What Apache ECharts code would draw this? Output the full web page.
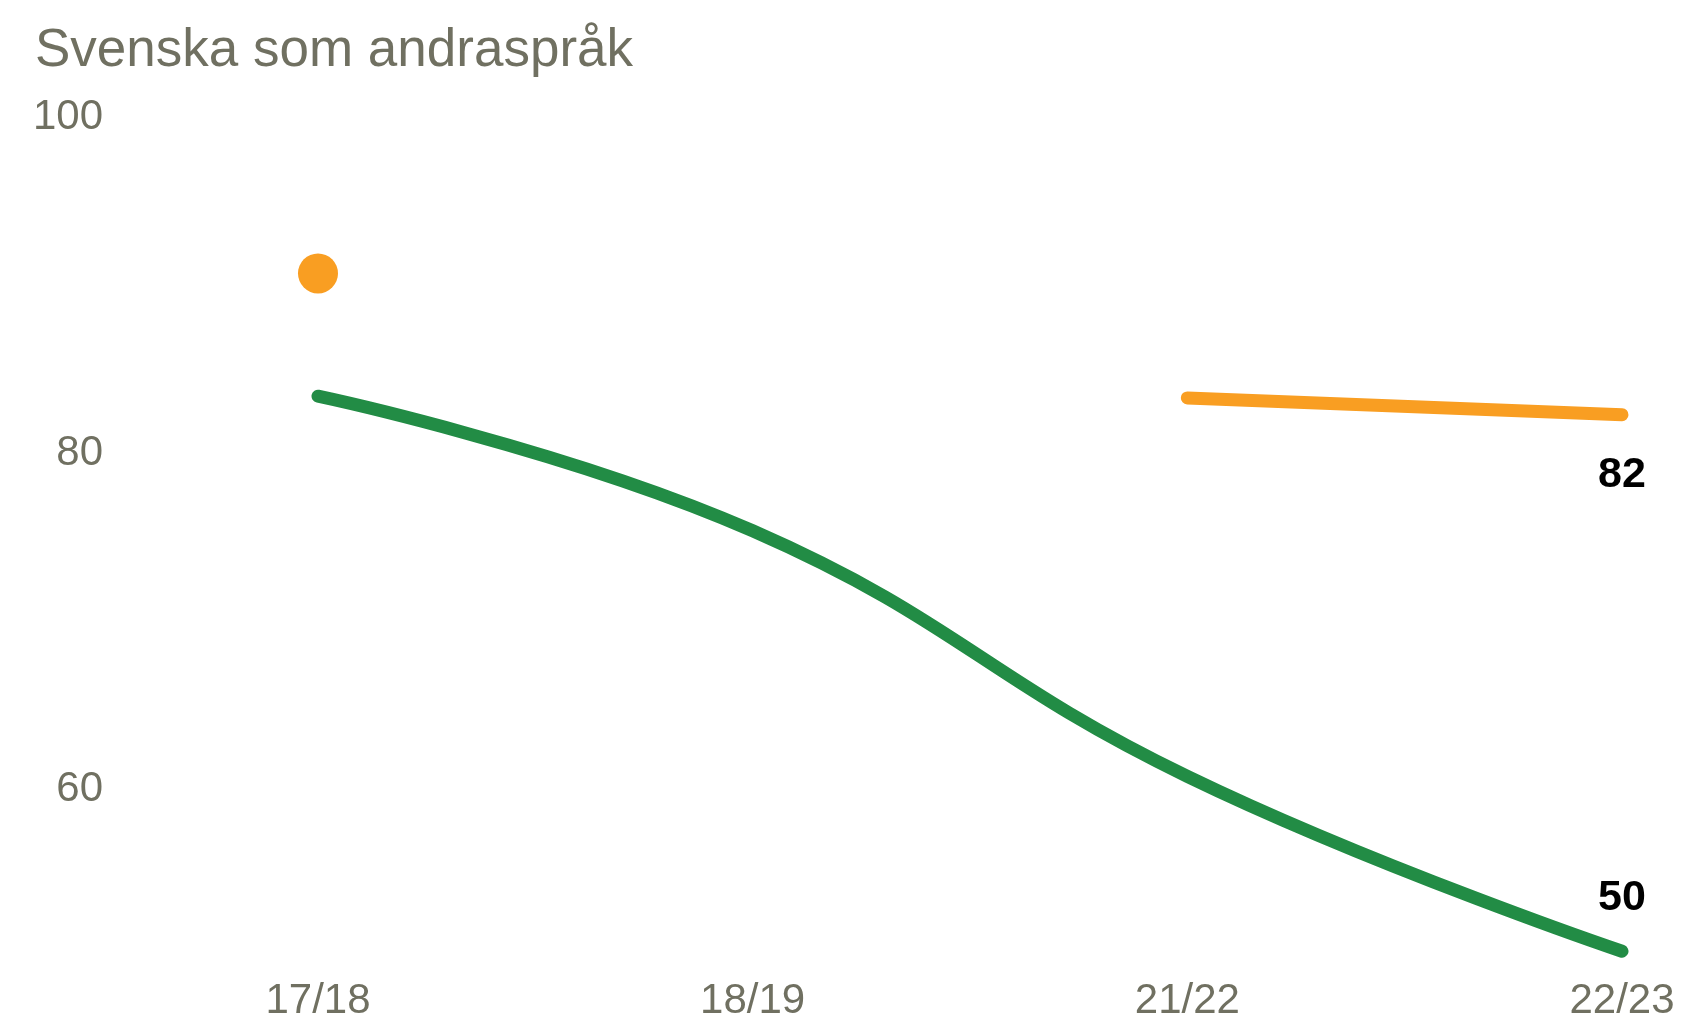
<!DOCTYPE html>
<html lang="sv">
<head>
  <meta charset="UTF-8">
  <title>Svenska som andraspråk</title>
  <script src="https://cdn.jsdelivr.net/npm/echarts@6.0.0/dist/echarts.min.js"></script>
  <style>
    html, body { margin: 0; padding: 0; background: #fff; }
    #chart { width: 1683px; height: 1022px; }
  </style>
</head>
<body>
  <div id="chart"></div>
  <script>
    // data
    var years = ['17/18', '18/19', '21/22', '22/23'];
    var greenValues = [83.4, 75.4, 60.8, 50.4];
    var orangeValues = [90.7, null, 83.3, 82.3];
    var yTicks = [60, 80, 100];

    var grey = '#707061';
    var green = '#228c45';
    var orange = '#f99e22';
    var font = 'Arial, "Liberation Sans", sans-serif';

    var chart = echarts.init(document.getElementById('chart'));

    var endLabel = {
      show: true,
      color: '#000',
      fontFamily: font,
      fontWeight: 'bold',
      fontSize: 43,
      formatter: function (p) { return Math.round(p.value); }
    };

    var orangeData = orangeValues.map(function (v, i) {
      var item = { value: v, symbol: 'none' };
      if (i === 0) { item.symbol = 'circle'; item.symbolSize = 40; }
      if (i === orangeValues.length - 1) {
        item.symbol = 'circle';
        item.symbolSize = 2;
        item.label = Object.assign({}, endLabel, { position: 'bottom', distance: 38 });
      }
      return item;
    });
    var greenData = greenValues.map(function (v, i) {
      var item = { value: v, symbol: 'none' };
      if (i === greenValues.length - 1) {
        item.symbol = 'circle';
        item.symbolSize = 2;
        item.label = Object.assign({}, endLabel, { position: 'top', distance: 31 });
      }
      return item;
    });

    chart.setOption({
      animation: false,
      title: {
        text: 'Svenska som andraspråk',
        left: 30, top: 20,
        textStyle: { color: grey, fontFamily: font, fontWeight: 'normal', fontSize: 53 }
      },
      grid: { left: 318, right: 61, top: 117, bottom: 59 },
      xAxis: {
        type: 'category',
        data: years,
        boundaryGap: false,
        axisLine: { show: false },
        axisTick: { show: false },
        axisLabel: { color: grey, fontFamily: font, fontSize: 42, margin: 22 }
      },
      yAxis: {
        type: 'value',
        min: 50, max: 100, interval: 10,
        axisLine: { show: false },
        axisTick: { show: false },
        splitLine: { show: false },
        axisLabel: {
          customValues: yTicks,
          color: grey, fontFamily: font, fontSize: 42, margin: 215
        }
      },
      series: [
        {
          name: 'green',
          type: 'line',
          data: greenData,
          smooth: 0.45,
          showSymbol: true,
          lineStyle: { color: green, width: 13, cap: 'round', join: 'round' },
          itemStyle: { color: green }
        },
        {
          name: 'orange',
          type: 'line',
          data: orangeData,
          showSymbol: true,
          connectNulls: false,
          lineStyle: { color: orange, width: 13, cap: 'round' },
          itemStyle: { color: orange }
        }
      ]
    });
  </script>
</body>
</html>
